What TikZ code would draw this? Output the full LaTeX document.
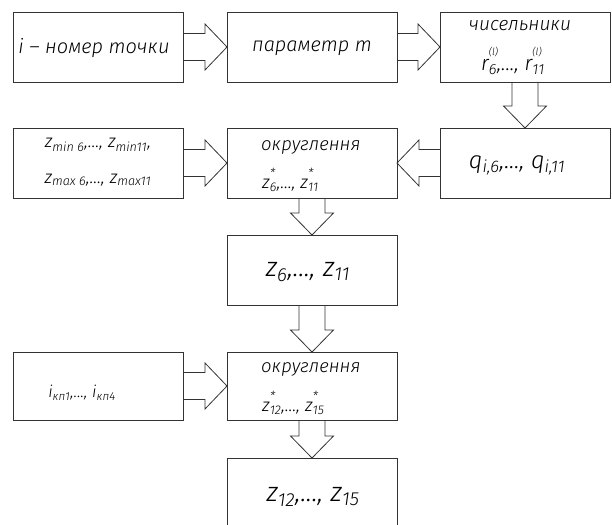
\documentclass[tikz,border=0pt]{standalone}
\usepackage{fontspec}
\setmainfont{Fira Sans}[UprightFont=* Light, ItalicFont=* Light Italic]
\usetikzlibrary{calc}
\tikzset{
  blk/.style={draw=black!80, line width=0.9pt, minimum width=170pt, minimum height=70pt, inner sep=0pt, outer sep=0pt},
  txt/.style={inner sep=0pt, font=\itshape, text=black},
  arr/.style={draw=black!80, line width=0.8pt, line join=miter}
}
\newcommand{\arrR}[2]{\draw[arr] ([yshift=13.5pt]#1.east) -- ([xshift=-22pt,yshift=13.5pt]#2.west) -- ([xshift=-22pt,yshift=23pt]#2.west) -- (#2.west) -- ([xshift=-22pt,yshift=-23pt]#2.west) -- ([xshift=-22pt,yshift=-13.5pt]#2.west) -- ([yshift=-13.5pt]#1.east);}
\newcommand{\arrL}[2]{\draw[arr] ([yshift=13.5pt]#1.west) -- ([xshift=22pt,yshift=13.5pt]#2.east) -- ([xshift=22pt,yshift=23pt]#2.east) -- (#2.east) -- ([xshift=22pt,yshift=-23pt]#2.east) -- ([xshift=22pt,yshift=-13.5pt]#2.east) -- ([yshift=-13.5pt]#1.west);}
\newcommand{\arrD}[2]{\draw[arr] ([xshift=-13pt]#1.south) -- ([xshift=-13pt,yshift=22pt]#2.north) -- ([xshift=-21.5pt,yshift=22pt]#2.north) -- (#2.north) -- ([xshift=21.5pt,yshift=22pt]#2.north) -- ([xshift=13pt,yshift=22pt]#2.north) -- ([xshift=13pt]#1.south);}
\newcommand{\zs}[1]{z\rlap{\raisebox{0.5ex}{\textsuperscript{*}}}\textsubscript{#1}}
\newcommand{\rs}[1]{r\rlap{\raisebox{1.4ex}{\fontsize{10}{10}\selectfont(l)}}\textsubscript{#1}}
\begin{document}
\begin{tikzpicture}[x=1pt,y=-1pt]
\useasboundingbox (0,0) rectangle (612,524);
\clip (0,0) rectangle (612,524);
% row 1
\node[blk] (A) at (98,47) {};
\node[blk] (B) at (312,47) {};
\node[blk] (C) at (525,47) {};
% row 2
\node[blk] (D) at (98,163) {};
\node[blk] (E) at (312,163) {};
\node[blk] (F) at (525,163) {};
% row 3
\node[blk] (G) at (312,270) {};
% row 4
\node[blk, minimum height=68pt] (H) at (98,386) {};
\node[blk, minimum height=68pt] (I) at (312,386) {};
% row 5
\node[blk] (J) at (312,493) {};
% texts
\node[txt, font=\itshape\fontsize{20}{22}\selectfont] (tA) at (94,48) {i – номер точки};
\node[txt, font=\itshape\fontsize{20}{22}\selectfont] (tB) at (312,48) {параметр m};
\node[txt, font=\itshape\fontsize{19}{21}\selectfont] (tC1) at (520,26) {чисельники};
\node[txt, font=\itshape\fontsize{21}{23}\selectfont, anchor=base] (tC2) at (513,71) {\rs{6},..., \rs{11}};
\node[txt, font=\itshape\fontsize{18}{20}\selectfont] (tD1) at (98,145) {z\textsubscript{min 6},..., z\textsubscript{min11},};
\node[txt, font=\itshape\fontsize{18}{20}\selectfont] (tD2) at (98,180) {z\textsubscript{max 6},..., z\textsubscript{max11}};
\node[txt, font=\itshape\fontsize{18.5}{20}\selectfont, anchor=west] (tE1) at (261,147) {округлення};
\node[txt, font=\itshape\fontsize{18}{20}\selectfont, anchor=west] (tE2) at (262,180) {\zs{6},..., \zs{11}};
\node[txt, font=\itshape\fontsize{24}{26}\selectfont] (tF) at (517,165) {q\textsubscript{i,6},..., q\textsubscript{i,11}};
\node[txt, font=\itshape\fontsize{27}{29}\selectfont] (tG) at (308,272) {z\textsubscript{6},..., z\textsubscript{11}};
\node[txt, font=\itshape\fontsize{16.5}{18}\selectfont] (tH) at (82,393) {i\textsubscript{кп1},..., i\textsubscript{кп4}};
\node[txt, font=\itshape\fontsize{18.5}{20}\selectfont, anchor=west] (tI1) at (261,369) {округлення};
\node[txt, font=\itshape\fontsize{18}{20}\selectfont, anchor=west] (tI2) at (262,403) {\zs{12},..., \zs{15}};
\node[txt, font=\itshape\fontsize{27}{29}\selectfont] (tJ) at (313,497) {z\textsubscript{12},..., z\textsubscript{15}};
% arrows
\arrR{A}{B}
\arrR{B}{C}
\arrD{C}{F}
\arrR{D}{E}
\arrL{F}{E}
\arrD{E}{G}
\arrD{G}{I}
\arrR{H}{I}
\arrD{I}{J}
\end{tikzpicture}
\end{document}
